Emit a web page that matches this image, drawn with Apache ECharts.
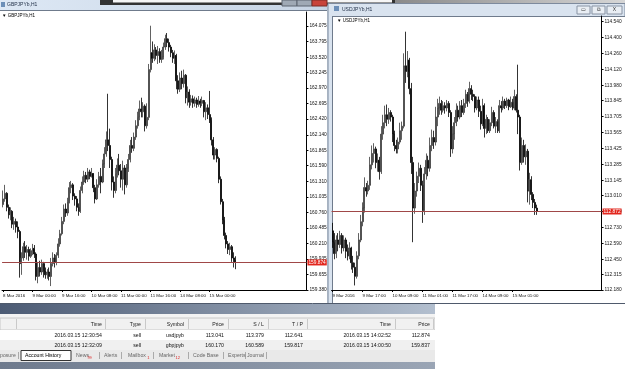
<!DOCTYPE html>
<html><head><meta charset="utf-8">
<script src="https://cdn.jsdelivr.net/npm/echarts@6/dist/echarts.min.js"></script>
<style>html,body{margin:0;padding:0;background:#fff;}#c{width:625px;height:369px;}</style>
</head><body><div id="c"></div>
<script>
// ---------- GBPJPYb,H1 ----------
const gbpDays = [['8 Mar',8,23],['9 Mar',0,23],['10 Mar',0,23],['11 Mar',0,23],['14 Mar',0,23],['15 Mar',0,14]];
const gbpOpen = [160.90,161.00,161.10,160.85,160.72,160.78,160.55,160.60,160.50,160.42,
159.85,159.95,160.15,160.05,160.10,159.98,160.08,160.12,160.02,159.62,
159.78,159.70,159.85,159.72,159.65,159.70,159.62,159.85,159.95,159.88,
160.00,160.20,160.38,160.60,160.82,160.75,160.95,161.20,161.25,161.05,
161.00,160.85,160.78,161.15,161.30,161.42,161.35,161.48,161.40,161.45,
161.20,161.00,161.25,161.40,161.30,161.62,161.80,162.05,161.95,161.70,
161.30,161.15,161.45,161.60,161.50,161.35,161.55,161.25,161.55,161.70,
161.95,161.90,162.10,162.30,162.45,162.60,162.55,162.65,162.30,162.45,
163.30,163.60,163.50,163.65,163.55,163.62,163.48,163.52,163.70,163.85,
163.78,163.70,163.60,163.50,163.55,163.10,162.95,163.15,163.05,163.20,
162.80,162.90,162.72,162.78,162.70,162.76,162.68,162.74,162.70,162.75,
162.55,162.62,162.50,162.40,162.05,161.78,161.88,161.72,161.35,160.95,
160.62,160.35,160.20,160.10,160.15,159.95,159.92];
const gbpClose = [161.00,161.10,160.85,160.72,160.78,160.55,160.60,160.50,160.42,159.85,
159.95,160.15,160.05,160.10,159.98,160.08,160.12,160.02,159.62,159.78,
159.70,159.85,159.72,159.65,159.70,159.62,159.85,159.95,159.88,160.00,
160.20,160.38,160.60,160.82,160.75,160.95,161.20,161.25,161.05,161.00,
160.85,160.78,161.15,161.30,161.42,161.35,161.48,161.40,161.45,161.20,
161.00,161.25,161.40,161.30,161.62,161.80,162.05,161.95,161.70,161.30,
161.15,161.45,161.60,161.50,161.35,161.55,161.25,161.55,161.70,161.95,
161.90,162.10,162.30,162.45,162.60,162.55,162.65,162.30,162.45,163.30,
163.60,163.50,163.65,163.55,163.62,163.48,163.52,163.70,163.85,163.78,
163.70,163.60,163.50,163.55,163.10,162.95,163.15,163.05,163.20,162.80,
162.90,162.72,162.78,162.70,162.76,162.68,162.74,162.70,162.75,162.55,
162.62,162.50,162.40,162.05,161.78,161.88,161.72,161.35,160.95,160.62,
160.35,160.20,160.10,160.15,159.95,159.92,159.874];
const gbpHigh = [161.15,161.25,161.12,160.90,160.85,160.80,160.68,160.65,160.60,160.45,
160.05,160.22,160.25,160.18,160.15,160.12,160.20,160.18,160.05,159.88,
159.90,159.92,159.88,159.78,159.75,159.78,159.95,160.05,160.02,160.05,
160.30,160.45,160.68,160.90,160.92,161.02,161.30,161.32,161.28,161.10,
161.05,160.92,161.22,161.40,161.50,161.48,161.55,161.52,161.55,161.46,
161.25,161.35,161.48,161.55,161.70,161.92,162.20,162.87,162.25,161.75,
161.40,161.55,161.72,161.80,161.62,161.68,161.60,161.62,161.80,162.05,
162.10,162.18,162.40,162.55,162.75,162.80,162.72,162.68,162.70,163.40,
164.08,163.80,163.75,163.70,163.72,163.68,163.65,163.78,163.92,163.95,
163.85,163.74,163.65,163.64,163.58,163.20,163.25,163.28,163.30,163.22,
163.00,162.95,162.85,162.84,162.82,162.80,162.83,162.78,162.82,162.76,
162.72,162.68,162.92,162.45,162.10,161.92,161.90,161.75,161.40,161.00,
160.68,160.40,160.25,160.22,160.18,160.05,159.98];
const gbpLow = [160.85,160.95,160.78,160.65,160.62,160.48,160.45,160.40,160.30,159.60,
159.65,159.90,159.95,159.92,159.90,159.95,160.00,159.95,159.55,159.50,
159.62,159.65,159.60,159.58,159.58,159.55,159.45,159.80,159.78,159.82,
159.95,160.15,160.35,160.55,160.68,160.70,160.92,161.10,160.98,160.88,
160.78,160.70,160.75,161.10,161.25,161.28,161.30,161.35,161.38,161.12,
160.92,160.98,161.20,161.10,161.28,161.55,161.75,161.85,161.55,161.15,
161.02,161.10,161.38,161.42,161.20,161.15,161.08,161.20,161.48,161.65,
161.82,161.85,162.05,162.25,162.40,162.45,162.45,162.20,162.25,162.40,
163.25,163.42,163.45,163.48,163.40,163.42,163.42,163.48,163.65,163.70,
163.62,163.52,163.42,163.40,162.95,162.87,162.90,162.95,162.98,162.70,
162.66,162.62,162.66,162.62,162.64,162.62,162.64,162.62,162.65,162.45,
162.40,162.42,162.35,161.95,161.70,161.70,161.65,161.28,160.90,160.55,
160.28,160.12,160.02,160.00,159.88,159.78,159.75];
const gbpBid = 159.874;
const gbpYTicks = ['159.380','159.655','159.935','160.210','160.485','160.760','161.035','161.310','161.590','161.865','162.140','162.420','162.695','162.970','163.245','163.520','163.795','164.075'];
const gbpXLabels = ['8 Mar 2016','9 Mar 00:00','9 Mar 16:00','10 Mar 08:00','11 Mar 00:00','11 Mar 16:00','14 Mar 08:00','15 Mar 00:00'];

// ---------- USDJPYb,H1 ----------
const usdDays = [['9 Mar',1,23],['10 Mar',0,23],['11 Mar',0,23],['14 Mar',0,23],['15 Mar',0,14]];
const usdOpen = [112.70,112.60,112.50,112.62,112.58,112.66,112.55,112.62,112.52,112.48,
112.55,112.42,112.38,112.30,112.48,112.62,112.78,112.90,113.08,113.05,
113.10,113.28,113.38,113.42,113.30,113.32,113.22,113.55,113.65,113.72,
113.68,113.74,113.70,113.55,113.45,113.42,113.48,113.58,113.62,114.15,
114.10,114.20,113.95,113.30,112.90,113.05,113.18,113.25,113.10,112.88,
113.20,113.32,113.25,113.45,113.52,113.48,113.70,113.78,113.82,113.76,
113.80,113.78,113.82,113.74,113.42,113.55,113.65,113.76,113.70,113.80,
113.74,113.82,113.90,113.84,113.95,113.90,113.88,113.78,113.85,113.75,
113.64,113.80,113.60,113.68,113.58,113.65,113.74,113.62,113.66,113.58,
113.80,113.78,113.84,113.80,113.85,113.79,113.83,113.78,113.88,113.76,
113.70,113.30,113.45,113.35,113.40,113.05,113.15,113.02,112.95,112.90];
const usdClose = [112.60,112.50,112.62,112.58,112.66,112.55,112.62,112.52,112.48,112.55,
112.42,112.38,112.30,112.48,112.62,112.78,112.90,113.08,113.05,113.10,
113.28,113.38,113.42,113.30,113.32,113.22,113.55,113.65,113.72,113.68,
113.74,113.70,113.55,113.45,113.42,113.48,113.58,113.62,114.15,114.10,
114.20,113.95,113.30,112.90,113.05,113.18,113.25,113.10,112.88,113.20,
113.32,113.25,113.45,113.52,113.48,113.70,113.78,113.82,113.76,113.80,
113.78,113.82,113.74,113.42,113.55,113.65,113.76,113.70,113.80,113.74,
113.82,113.90,113.84,113.95,113.90,113.88,113.78,113.85,113.75,113.64,
113.80,113.60,113.68,113.58,113.65,113.74,113.62,113.66,113.58,113.80,
113.78,113.84,113.80,113.85,113.79,113.83,113.78,113.88,113.76,113.70,
113.30,113.45,113.35,113.40,113.05,113.15,113.02,112.95,112.90,112.872];
const usdHigh = [112.77,112.68,112.66,112.68,112.70,112.68,112.66,112.64,112.58,112.60,
112.56,112.48,112.42,112.52,112.68,112.84,112.95,113.17,113.12,113.14,
113.35,113.45,113.47,113.44,113.38,113.35,113.62,113.72,113.80,113.81,
113.78,113.76,113.72,113.58,113.50,113.52,113.65,113.66,114.26,114.45,
114.28,114.22,114.00,113.35,113.12,113.22,113.30,113.28,113.14,113.26,
113.38,113.36,113.52,113.59,113.58,113.79,113.86,113.88,113.85,113.84,
113.83,113.85,113.84,113.76,113.62,113.70,113.82,113.80,113.84,113.85,
113.86,113.94,113.92,114.01,113.98,113.94,113.90,113.88,113.88,113.80,
113.86,113.82,113.72,113.70,113.68,113.79,113.76,113.70,113.68,113.85,
113.84,113.88,113.86,113.87,113.86,113.88,113.86,113.94,113.90,114.16,
113.72,113.52,113.50,113.46,113.42,113.21,113.18,113.04,112.98,112.93];
const usdLow = [112.55,112.45,112.46,112.52,112.55,112.50,112.52,112.46,112.44,112.45,
112.36,112.33,112.22,112.28,112.45,112.60,112.74,112.86,113.00,113.02,
113.06,113.24,113.30,113.25,113.22,113.15,113.20,113.50,113.60,113.62,
113.64,113.66,113.48,113.40,113.38,113.38,113.46,113.50,113.60,114.00,
114.05,113.90,113.20,112.60,112.85,113.00,113.12,113.05,112.77,112.84,
113.15,113.18,113.22,113.40,113.42,113.45,113.62,113.72,113.72,113.74,
113.73,113.75,113.70,113.35,113.38,113.50,113.62,113.66,113.68,113.70,
113.72,113.78,113.79,113.82,113.85,113.84,113.74,113.76,113.70,113.59,
113.62,113.52,113.55,113.56,113.56,113.62,113.60,113.56,113.56,113.56,
113.74,113.76,113.77,113.78,113.76,113.78,113.76,113.76,113.74,113.55,
113.23,113.28,113.30,113.28,112.95,112.93,112.97,112.90,112.84,112.84];
const usdBid = 112.872;
const usdYTicks = ['112.180','112.315','112.450','112.590','112.730','112.870','113.010','113.145','113.285','113.425','113.565','113.705','113.845','113.980','114.120','114.260','114.400','114.540'];
const usdXLabels = ['9 Mar 2016','9 Mar 17:00','10 Mar 09:00','11 Mar 01:00','11 Mar 17:00','14 Mar 09:00','15 Mar 01:00'];

// ---------- Terminal table ----------
const tableHeader = ['Time','Type','Symbol','Price','S / L','T / P','Time','Price'];
const tableRows = [
  ['2016.03.15 12:30:54','sell','usdjpyb','113.041','113.379','112.641','2016.03.15 14:02:52','112.874'],
  ['2016.03.15 12:32:09','sell','gbpjpyb','160.170','160.589','159.817','2016.03.15 14:00:50','159.837']
];
const tabNames = [['posure',''],['Account History',''],['News','99'],['Alerts',''],['Mailbox','1'],['Market','12'],['Code Base',''],['Experts',''],['Journal','']];

// ---------- build ----------
function buildTimes(days){const out=[];days.forEach(d=>{for(let h=d[1];h<=d[2];h++){out.push(d[0]+' '+String(h).padStart(2,'0')+':00');}});return out;}
function ohlc(o,c,l,h){return o.map((v,i)=>[v,c[i],l[i],h[i]]);}
const FONT='"Liberation Sans", Arial, sans-serif';
const BW = 1.875;
const gbpTimes = buildTimes(gbpDays);
const usdTimes = buildTimes(usdDays);
const gbpCats = gbpTimes.concat(new Array(165-gbpTimes.length).fill(''));
const usdCats = usdTimes.concat(new Array(144-usdTimes.length).fill(''));

function xAxisCfg(grid, cats, n, labels){
  const show = (i)=> i%16===0 && i<n;
  return {type:'category', gridIndex:grid, data:cats, boundaryGap:true,
    axisLine:{show:true,lineStyle:{color:'#000',width:1}},
    axisTick:{show:true,interval:show,alignWithLabel:true,length:2,lineStyle:{color:'#000'}},
    axisLabel:{interval:show,formatter:(v,i)=>labels[i/16]||'',align:'left',margin:4,fontSize:4.4,fontFamily:FONT,color:'#111'},
    splitLine:{show:false}};
}
function yAxisCfg(grid,min,max,ticks){
  const vals = ticks.map(Number);
  return {type:'value', gridIndex:grid, position:'right', min:min, max:max, scale:true,
    axisLine:{show:true,lineStyle:{color:'#000',width:1}},
    axisTick:{show:true,customValues:vals,length:2,lineStyle:{color:'#000'}},
    axisLabel:{customValues:vals,formatter:(v)=>{const k=vals.indexOf(v);return k>=0?ticks[k]:v.toFixed(3);},margin:3,fontSize:4.8,fontFamily:FONT,color:'#111'},
    splitLine:{show:false}};
}
function candle(idx,data,bid,label){
  return {type:'candlestick', xAxisIndex:idx, yAxisIndex:idx, data:data, barWidth:1.5,
    itemStyle:{color:'#6a6a6a',color0:'#000',borderColor:'#3a3a3a',borderColor0:'#000',borderWidth:0.8},
    markLine:{silent:true,symbol:['none','none'],animation:false,
      lineStyle:{color:'#a04848',type:'solid',width:1},
      label:{show:true,position:'end',formatter:label,backgroundColor:'#e2261d',color:'#fff',fontSize:4.8,fontFamily:FONT,padding:[1,1,0,1],distance:1},
      data:[{yAxis:bid}]}};
}

const G = [];
function rect(x,y,w,h,fill,z,stroke){G.push({type:'rect',z:z||-5,shape:{x:x,y:y,width:w,height:h},style:{fill:fill,stroke:stroke||null,lineWidth:stroke?1:0}});}
function line(x1,y1,x2,y2,color,z){G.push({type:'line',z:z||-4,shape:{x1:x1,y1:y1,x2:x2,y2:y2},style:{stroke:color,lineWidth:1}});}
function text(x,y,t,opt){opt=opt||{};G.push({type:'text',z:opt.z||10,x:x,y:y,style:{text:t,fontSize:opt.size||5,fontFamily:FONT,fill:opt.color||'#000',textAlign:opt.align||'left',textVerticalAlign:'middle',fontWeight:opt.weight||'normal'}});}
function grad(c1,c2,vertical){return {type:'linear',x:0,y:0,x2:vertical?0:1,y2:vertical?1:0,colorStops:[{offset:0,color:c1},{offset:1,color:c2}]};}

// frames / background
rect(0,0,625,369,'#cfd9e6',-20);
rect(0,0,330,10,grad('#dde8f5','#c6d3e3'),-15);
rect(395,0,230,4,grad('#8a8a8a','#d6d6d6'),-15);
rect(100,0,295,5,'#333333',-14);
rect(113,0,279,2.5,'#f6f6f6',-13);
rect(282,0,15,6,'#9fa9b5',-12,'#5d6570');
rect(297,0,15,6,'#9fa9b5',-12,'#5d6570');
rect(312,0,15,6,'#c8433a',-12,'#7a2a24');
rect(1,2,4,5,'#6c8fb8',-12);
text(7,5,'GBPJPYb,H1',{color:'#1d2c44',size:5});
rect(0,10,327,293,'#ffffff',-11);
line(0,10.5,327,10.5,'#6f7b8c',-10);
rect(328,3.5,297,300,'#d9e3ef',-11,'#7d8a9d');
rect(333,16,292,287,'#ffffff',-10);
line(333,16.5,625,16.5,'#6f7b8c',-9);
line(332.5,16,332.5,303,'#6f7b8c',-9);
rect(334,6,5,5,'#6c8fb8',-9);
text(342,10,'USDJPYb,H1',{color:'#1d2c44',size:5});
rect(577,6,13,8,'#e9eef4',-9,'#8893a3');
rect(592,6,13,8,'#e9eef4',-9,'#8893a3');
rect(607,6,15,8,'#e9eef4',-9,'#8893a3');
text(583.5,10,'▭',{size:5,align:'center',color:'#333'});
text(598.5,10,'⧉',{size:5,align:'center',color:'#333'});
text(614.5,10,'X',{size:5,align:'center',color:'#333'});
text(2,15.5,'▼ GBPJPYb,H1',{size:4.5,color:'#000'});
text(337,21,'▼ USDJPYb,H1',{size:4.5,color:'#000'});
line(0,303.5,625,303.5,'#4f5a6c',-8);

// terminal
rect(0,304,435,65,'#f3f3f3',-8);
rect(0,304,435,10,grad('#4c5b74','#b3bfcf'),-7);
rect(0,318,435,12,'#f1f1f1',-7,'#c8c8c8');
rect(0,330,435,10,'#ffffff',-7);
rect(0,340,435,10,'#f0f0f0',-7);
rect(0,350,435,12,'#e9e9e9',-7);
rect(0,362,435,7,grad('#6e7a8d','#9aa5b5'),-7);
rect(435,304,190,65,'#ffffff',-7);
rect(21,350.5,50,10,'#ffffff',-6,'#333333');
const colRight=[102,141,184,224,264,303,391,430];
const colSep=[16,105,145,188,228,268,307,395,433];
colSep.forEach(x=>line(x+0.5,319,x+0.5,329,'#c9c9c9',-6));
tableHeader.forEach((h,i)=>text(colRight[i],325,h,{align:'right',size:5.2,color:'#222'}));
tableRows.forEach((r,j)=>r.forEach((v,i)=>text(colRight[i],335.5+j*10,v,{align:'right',size:5.2,color:'#111'})));
const tabX=[0,25,76,104,128,159,193,228,247];
tabNames.forEach((t,i)=>{
  text(tabX[i],355.5,t[0],{size:5.2,color:i===1?'#000':'#666'});
  if(t[1]){const w=t[0].length*2.6;text(tabX[i]+w+1,357.5,t[1],{size:4,color:'#d22'});}
});
[18,99,121,153,188,223,245,266].forEach(x=>line(x+0.5,352,x+0.5,359,'#aaaaaa',-5));

const option = {
  animation:false,
  backgroundColor:'transparent',
  grid:[
    {left:-2-BW/2, top:12, width:165*BW, height:278, containLabel:false},
    {left:332.5-BW/2, top:16, width:144*BW, height:274, containLabel:false}
  ],
  xAxis:[xAxisCfg(0,gbpCats,gbpTimes.length,gbpXLabels), xAxisCfg(1,usdCats,usdTimes.length,usdXLabels)],
  yAxis:[yAxisCfg(0,159.380,164.324,gbpYTicks), yAxisCfg(1,112.180,114.588,usdYTicks)],
  series:[candle(0,ohlc(gbpOpen,gbpClose,gbpLow,gbpHigh),gbpBid,'159.874'),
          candle(1,ohlc(usdOpen,usdClose,usdLow,usdHigh),usdBid,'112.872')],
  graphic:{elements:G}
};
const chart = echarts.init(document.getElementById('c'),null,{renderer:'canvas'});
chart.setOption(option);
</script></body></html>
